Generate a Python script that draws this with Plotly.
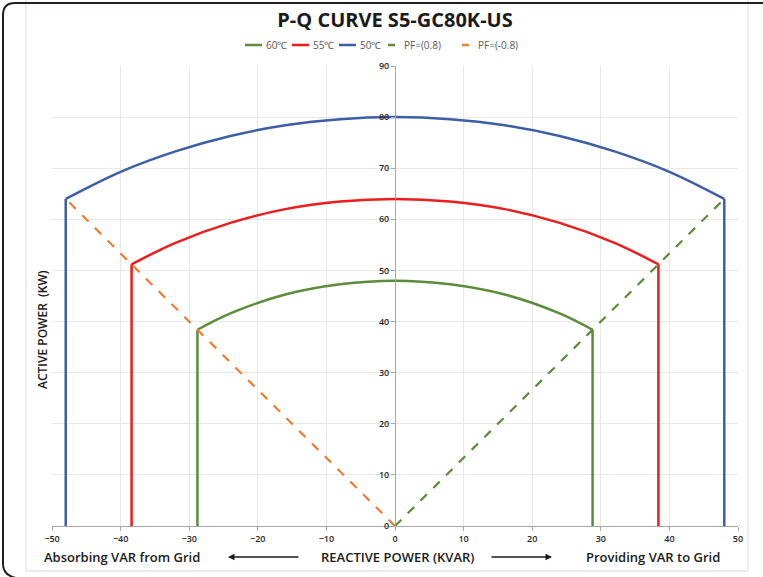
import plotly.graph_objects as go

# P-Q capability data (kVAR / kW)
q_60 = [-28.8, -24, -16, -8, 0, 8, 16, 24, 28.8]
p_60 = [38.4, 41.6, 45.3, 47.3, 48.0, 47.3, 45.3, 41.6, 38.4]
q_55 = [-38.4, -32, -24, -16, -8, 0, 8, 16, 24, 32, 38.4]
p_55 = [51.2, 55.4, 59.3, 62.0, 63.5, 64.0, 63.5, 62.0, 59.3, 55.4, 51.2]
q_50 = [-48, -40, -32, -24, -16, -8, 0, 8, 16, 24, 32, 40, 48]
p_50 = [64.0, 69.3, 73.3, 76.3, 78.4, 79.6, 80.0, 79.6, 78.4, 76.3, 73.3, 69.3, 64.0]

pf_pos_q = [0, 48]
pf_pos_p = [0, 64]
pf_neg_q = [0, -48]
pf_neg_p = [0, 64]

x_ticks = [-50, -40, -30, -20, -10, 0, 10, 20, 30, 40, 50]
y_ticks = [0, 10, 20, 30, 40, 50, 60, 70, 80, 90]

GREEN = "#5b8c3a"
RED = "#ee1c1c"
BLUE = "#3b5ea6"
ORANGE = "#ed7d31"

W, H = 763, 577
L, R, T, B = 52, 738, 66, 526


def px(x):
    return (x - L) / (R - L)


def py(y):
    return (B - y) / (B - T)


fig = go.Figure()


def add_curve(name, q, p, color):
    fig.add_trace(go.Scatter(x=q, y=p, mode="lines", name=name, showlegend=False,
                             line=dict(color=color, width=2.5, shape="spline")))
    fig.add_trace(go.Scatter(x=[q[0], q[0], None, q[-1], q[-1]],
                             y=[0, p[0], None, p[-1], 0],
                             mode="lines", showlegend=False,
                             line=dict(color=color, width=2.5)))


add_curve("60℃", q_60, p_60, GREEN)
add_curve("55℃", q_55, p_55, RED)
add_curve("50℃", q_50, p_50, BLUE)

fig.add_trace(go.Scatter(x=pf_pos_q, y=pf_pos_p, mode="lines", name="PF=(0.8)", showlegend=False,
                         line=dict(color=GREEN, width=2.2, dash="dash")))
fig.add_trace(go.Scatter(x=pf_neg_q, y=pf_neg_p, mode="lines", name="PF=(-0.8)", showlegend=False,
                         line=dict(color=ORANGE, width=2.2, dash="dash")))

# compact legend like the original (short line samples)
legend_items = [("60℃", GREEN, 245, 262), ("55℃", RED, 292, 309), ("50℃", BLUE, 339, 356),
                ("PF=(0.8)", GREEN, 388, 395), ("PF=(-0.8)", ORANGE, 462, 469)]
for label, color, x0, x1 in legend_items:
    fig.add_shape(type="line", xref="paper", yref="paper", x0=px(x0), x1=px(x1), y0=py(45), y1=py(45),
                  line=dict(color=color, width=2.5))
    gap = 2 if x1 - x0 > 10 else 7
    fig.add_annotation(x=px(x1 + gap), y=py(45), xref="paper", yref="paper", text=label,
                       xanchor="left", yanchor="middle", showarrow=False,
                       font=dict(family="Open Sans", size=10, color="#595959"))

txt = dict(family="Open Sans", size=13, color="#1a1a1a", weight=600)
for label, xc in [("Absorbing VAR from Grid", 122), ("REACTIVE POWER (KVAR)", 397),
                  ("Providing VAR to Grid", 653)]:
    fig.add_annotation(x=px(xc), y=py(557), xref="paper", yref="paper", text=label,
                       xanchor="center", yanchor="middle", showarrow=False, font=txt)
fig.add_annotation(x=px(42), y=py(330), xref="paper", yref="paper", text="ACTIVE POWER  (KW)",
                   xanchor="center", yanchor="middle", showarrow=False, textangle=-90,
                   font=dict(family="Open Sans", size=12, color="#1a1a1a", weight=600))
# arrows
fig.add_annotation(x=px(228), y=py(557), ax=72, ay=0, xref="paper", yref="paper",
                   text="", showarrow=True, arrowhead=2,
                   arrowsize=1, arrowwidth=1.3, arrowcolor="#1a1a1a")
fig.add_annotation(x=px(552), y=py(557), ax=-62, ay=0, xref="paper", yref="paper",
                   text="", showarrow=True, arrowhead=2,
                   arrowsize=1, arrowwidth=1.3, arrowcolor="#1a1a1a")

# frames
fig.add_shape(type="rect", xref="paper", yref="paper", x0=px(26), x1=px(748), y0=py(571), y1=py(-5),
              line=dict(color="#d9d9d9", width=1), layer="below")
frame = "M {a},{b} L {c},{b} Q {d},{b} {d},{e} L {d},{f} Q {d},{g} {h},{i}".format(
    a=px(800), b=py(3), c=px(15), d=px(3), e=py(15), f=py(564), g=py(575), h=px(16), i=py(578))
fig.add_shape(type="path", xref="paper", yref="paper", path=frame,
              line=dict(color="#231f20", width=2))

fig.update_layout(
    width=W, height=H,
    margin=dict(l=L, r=W - R, t=T, b=H - B),
    paper_bgcolor="white", plot_bgcolor="white",
    title=dict(text="<b>P-Q CURVE S5-GC80K-US</b>", x=395 / W, y=1 - 20 / H,
               xanchor="center", yanchor="middle",
               font=dict(family="Open Sans", size=20, color="#1a1a1a")),
    showlegend=False,
    xaxis=dict(range=[-50, 50], tickvals=x_ticks, showgrid=True, gridcolor="#e8e8e8",
               zeroline=False, showline=True, linecolor="#a6a6a6", ticks="outside",
               ticklen=4, tickcolor="#a6a6a6",
               tickfont=dict(family="Open Sans", size=9, color="#262626", weight=600)),
    yaxis=dict(range=[0, 90], tickvals=y_ticks, showgrid=True, gridcolor="#e8e8e8",
               zeroline=False, showline=True, linecolor="#a6a6a6", ticks="outside",
               ticklen=4, tickcolor="#a6a6a6", anchor="free", position=0.5,
               tickfont=dict(family="Open Sans", size=9, color="#262626", weight=600)),
)

fig.write_html("out.html", config={"displayModeBar": False},
               post_script="document.body.style.margin='0';")
